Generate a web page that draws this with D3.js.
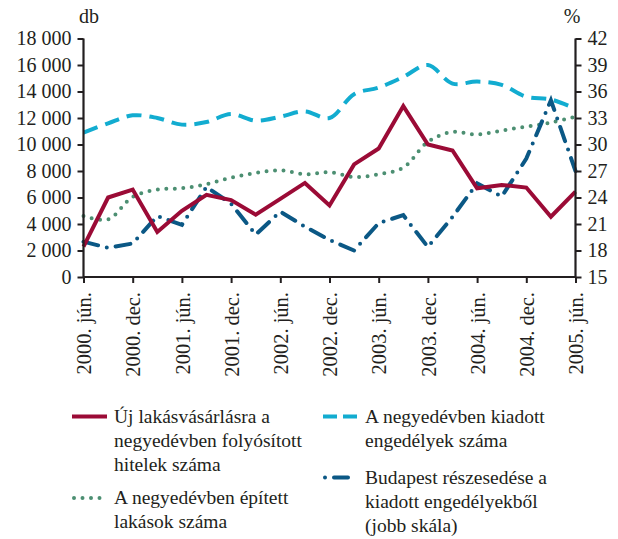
<!DOCTYPE html>
<meta charset="utf-8">
<script src="https://d3js.org/d3.v7.min.js"></script>
<style>
    body { margin: 0; background: #fff; }
    text { font-family: "Liberation Serif", "Times New Roman", serif; fill: #231f20; }
</style>
<div id="chart"></div>
<script>

    // quarters, jun 2000 - jun 2005
    var quarters = ["2000. jún.", "2000. szept.", "2000. dec.", "2001. márc.", "2001. jún.", "2001. szept.",
        "2001. dec.", "2002. márc.", "2002. jún.", "2002. szept.", "2002. dec.", "2003. márc.",
        "2003. jún.", "2003. szept.", "2003. dec.", "2004. márc.", "2004. jún.", "2004. szept.",
        "2004. dec.", "2005. márc.", "2005. jún."];

    // left scale (db)
    var loans = [2300, 6000, 6600, 3400, 5000, 6200, 5800, 4700, 5900, 7100, 5400,
        8500, 9700, 12900, 10000, 9550, 6700, 6950, 6750, 4550, 6450];
    var permits = [10900, 11600, 12200, 12000, 11500, 11700, 12300, 11800, 12100, 12500, 12000,
        13800, 14300, 15100, 16000, 14600, 14750, 14500, 13600, 13400, 12700];
    var built = [4600, 4350, 6050, 6600, 6700, 7000, 7500, 7850, 8050, 7750, 7900,
        7550, 7750, 8250, 10200, 10950, 10750, 11050, 11350, 11650, 12100];
    // right scale (%)
    var budapestShare = [19.0, 18.3, 18.8, 21.9, 20.9, 25.2, 23.3, 19.8, 22.4, 20.7, 19.2,
        18.0, 21.1, 22.0, 18.4, 21.8, 25.6, 24.1, 28.4, 35.0, 27.0];

    var leftTicks = d3.range(0, 18001, 2000);
    var rightTicks = d3.range(15, 43, 3);
    var labelTicks = quarters.filter(function (d, i) { return i % 2 === 0; });

    var width = 618, height = 539;
    var plot = { left: 83.5, right: 575.5, top: 38.5, bottom: 277 };

    var svg = d3.select("#chart").append("svg")
        .attr("width", width)
        .attr("height", height);

    var x = d3.scalePoint().domain(quarters).range([plot.left, plot.right]);
    var yL = d3.scaleLinear().domain([0, 18000]).range([plot.bottom, plot.top]);
    var yR = d3.scaleLinear().domain([15, 42]).range([plot.bottom, plot.top]);

    var fmt = function (d) { return d3.format(",")(d).replace(/,/g, " "); };

    // lines
    var series = [
        { values: permits, scale: yL, color: "#12acd0", dash: "15,8", cap: "butt", curve: d3.curveCatmullRom },
        { values: built, scale: yL, color: "#4c8f72", dash: "0,8.5", cap: "round", curve: d3.curveCatmullRom },
        { values: budapestShare, scale: yR, color: "#0b5885", dash: "15,9,0,9", cap: "round", curve: d3.curveLinear },
        { values: loans, scale: yL, color: "#9b0b36", dash: null, cap: "butt", curve: d3.curveLinear }
    ];

    series.forEach(function (s) {
        var line = d3.line()
            .x(function (d, i) { return x(quarters[i]); })
            .y(function (d) { return s.scale(d); })
            .curve(s.curve);
        svg.append("path")
            .datum(s.values)
            .attr("d", line)
            .attr("fill", "none")
            .attr("stroke", s.color)
            .attr("stroke-width", 4)
            .attr("stroke-linecap", s.cap)
            .attr("stroke-linejoin", "miter")
            .attr("stroke-dasharray", s.dash);
    });

    // axes
    var axL = svg.append("g")
        .attr("transform", "translate(" + plot.left + ",0)")
        .call(d3.axisLeft(yL).tickValues(leftTicks).tickFormat(fmt).tickSize(6).tickPadding(6));
    var axR = svg.append("g")
        .attr("transform", "translate(" + plot.right + ",0)")
        .call(d3.axisRight(yR).tickValues(rightTicks).tickSize(6).tickPadding(6));
    var axB = svg.append("g")
        .attr("transform", "translate(0," + plot.bottom + ")")
        .call(d3.axisBottom(x).tickValues(labelTicks).tickSize(6).tickPadding(6));

    [axL, axR, axB].forEach(function (a) {
        a.select(".domain").attr("stroke", "#231f20").attr("stroke-width", 2.2);
        a.selectAll(".tick line").attr("stroke", "#231f20").attr("stroke-width", 2);
        a.selectAll("text").style("font-size", "20px").attr("fill", "#231f20")
            .style("font-family", "'Liberation Serif', 'Times New Roman', serif");
    });

    axB.selectAll("text")
        .attr("transform", "rotate(-90)")
        .attr("x", -15)
        .attr("y", 0)
        .attr("dy", "0.35em")
        .style("font-size", "20.5px")
        .style("text-anchor", "end");

    axL.select(".domain").attr("d", "M" + 0 + "," + (plot.top) + "V" + plot.bottom);
    axR.select(".domain").attr("d", "M" + 0 + "," + (plot.top) + "V" + plot.bottom);
    axB.select(".domain").attr("d", "M" + plot.left + ",0H" + plot.right);

    // unit labels
    svg.append("text").attr("x", 89).attr("y", 23).style("text-anchor", "middle")
        .style("font-size", "20px").text("db");
    svg.append("text").attr("x", 572).attr("y", 23).style("text-anchor", "middle")
        .style("font-size", "20px").text("%");

    // legend
    var legendItems = [
        { x: 72, y: 416.5, color: "#9b0b36", dash: null, cap: "butt", lines: ["Új lakásvásárlásra a", "negyedévben folyósított", "hitelek száma"] },
        { x: 72, y: 498, color: "#4c8f72", dash: "0,8.5", cap: "round", lines: ["A negyedévben épített", "lakások száma"] },
        { x: 323, y: 416.5, color: "#12acd0", dash: "14,6", cap: "butt", lines: ["A negyedévben kiadott", "engedélyek száma"] },
        { x: 323, y: 477.5, color: "#0b5885", dash: "0,9,14,9", cap: "round", lines: ["Budapest részesedése a", "kiadott engedélyekből", "(jobb skála)"] }
    ];

    legendItems.forEach(function (d) {
        var g = svg.append("g").attr("transform", "translate(" + d.x + "," + d.y + ")");
        g.append("line")
            .attr("x1", d.cap === "round" ? 2 : 0).attr("x2", d.cap === "round" ? 34 : 35)
            .attr("y1", 0).attr("y2", 0)
            .attr("stroke", d.color)
            .attr("stroke-width", 4)
            .attr("stroke-linecap", d.cap)
            .attr("stroke-dasharray", d.dash);
        d.lines.forEach(function (t, i) {
            g.append("text")
                .attr("x", 42)
                .attr("y", 6 + i * 24)
                .style("font-size", "19.5px")
                .text(t);
        });
    });

</script>
